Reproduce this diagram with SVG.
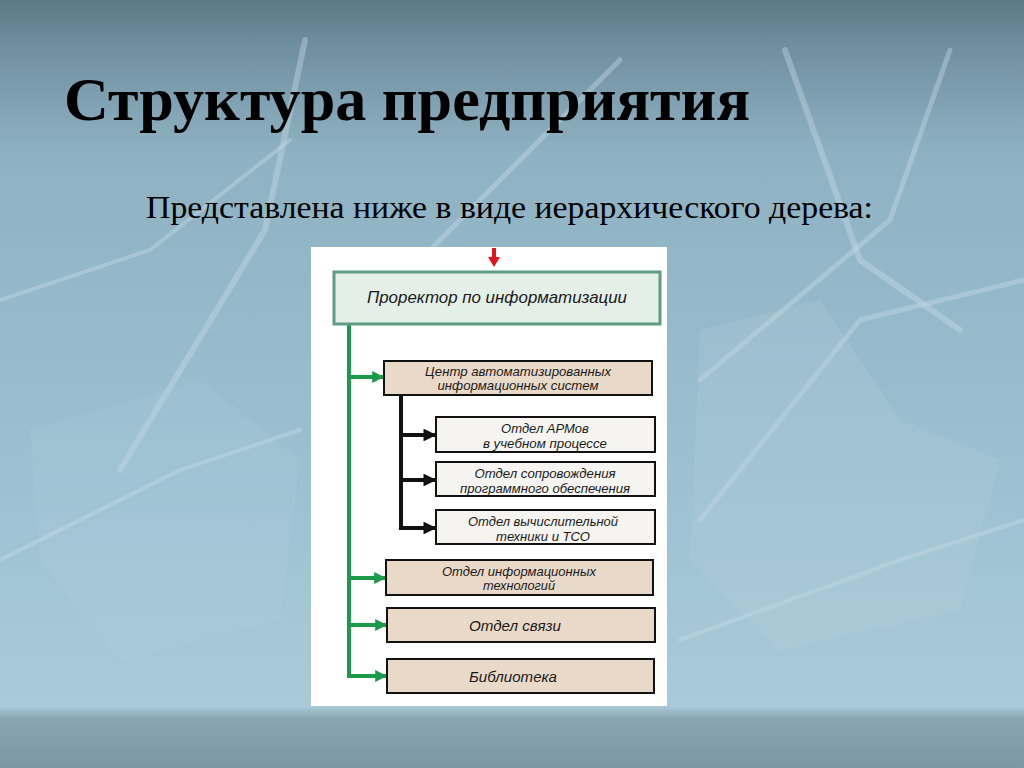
<svg xmlns="http://www.w3.org/2000/svg" width="1024" height="768" viewBox="0 0 1024 768">
<defs>
<linearGradient id="bg" x1="0" y1="0" x2="0" y2="1">
<stop offset="0" stop-color="#5b7886"/>
<stop offset="0.06" stop-color="#6f8f9e"/>
<stop offset="0.2" stop-color="#8fb2c3"/>
<stop offset="0.6" stop-color="#9cc0d0"/>
<stop offset="0.92" stop-color="#a9cad8"/>
<stop offset="0.935" stop-color="#8aa5b2"/>
<stop offset="1" stop-color="#7c97a4"/>
</linearGradient>
<marker id="ga" viewBox="0 0 10 10" refX="9" refY="5" markerWidth="3" markerHeight="3" orient="auto" markerUnits="strokeWidth"><path d="M0,0 L10,5 L0,10 z" fill="#1a9a4a"/></marker>
<marker id="ba" viewBox="0 0 10 10" refX="9" refY="5" markerWidth="3.2" markerHeight="3.2" orient="auto" markerUnits="strokeWidth"><path d="M0,0 L10,5 L0,10 z" fill="#111"/></marker>
<style>
.title{font-family:"Liberation Serif","Times New Roman",serif;font-weight:bold;fill:#000}
.sub{font-family:"Liberation Serif","Times New Roman",serif;fill:#000}
.t{font-family:"Liberation Sans",Arial,sans-serif;font-style:italic;fill:#1a1a1a;text-anchor:middle}
.tan{fill:#e9d9c9;stroke:#111;stroke-width:2}
.lt{fill:#f6f4f0;stroke:#111;stroke-width:2}
.g{stroke:#1a9a4a;stroke-width:4;fill:none}
.b{stroke:#111;stroke-width:4;fill:none}
.deco{stroke:#c9dde7;stroke-opacity:0.4;fill:none;stroke-linecap:round}
</style>
</defs>
<rect width="1024" height="768" fill="url(#bg)"/>
<g id="decoration">
<path class="deco" stroke-width="6" d="M305,40 L265,230 L120,470"/>
<path class="deco" stroke-width="5" d="M620,60 L430,250 L330,390"/>
<path class="deco" stroke-width="6" d="M785,50 L860,260 L960,330"/>
<path class="deco" stroke-width="5" d="M950,50 L890,220 L700,380"/>
<path class="deco" stroke-width="5" d="M1024,280 L860,320 L700,520"/>
<path class="deco" stroke-width="4" d="M0,560 L180,470 L300,430"/>
<path class="deco" stroke-width="4" d="M680,640 L900,560 L1024,520"/>
<path class="deco" stroke-width="4" d="M0,300 L150,250 L290,140"/>
<path fill="#b7d2de" fill-opacity="0.2" d="M700,330 L820,300 L900,420 L1000,460 L960,610 L780,650 L690,560 z"/>
<path fill="#b7d2de" fill-opacity="0.16" d="M30,430 L200,380 L300,460 L280,620 L120,660 L40,560 z"/>
</g>
<text class="title" x="64" y="120" font-size="62" textLength="686" lengthAdjust="spacingAndGlyphs">Структура предприятия</text>
<text class="sub" x="146" y="218" font-size="32" textLength="727" lengthAdjust="spacingAndGlyphs">Представлена ниже в виде иерархического дерева:</text>
<rect x="311" y="247" width="356" height="459" fill="#ffffff"/>
<g id="connectors">
<line x1="494" y1="248" x2="494" y2="258" stroke="#e0141c" stroke-width="4"/>
<path d="M488,257 L500,257 L494,267 z" fill="#e0141c"/>
<line class="g" x1="349" y1="324" x2="349" y2="678"/>
<line class="g" x1="347" y1="377" x2="383" y2="377" marker-end="url(#ga)"/>
<line class="g" x1="347" y1="578" x2="385" y2="578" marker-end="url(#ga)"/>
<line class="g" x1="347" y1="625" x2="386" y2="625" marker-end="url(#ga)"/>
<line class="g" x1="347" y1="676" x2="386" y2="676" marker-end="url(#ga)"/>
<line class="b" x1="401" y1="395" x2="401" y2="530"/>
<line class="b" x1="399" y1="435" x2="435" y2="435" marker-end="url(#ba)"/>
<line class="b" x1="399" y1="480" x2="435" y2="480" marker-end="url(#ba)"/>
<line class="b" x1="399" y1="528" x2="435" y2="528" marker-end="url(#ba)"/>
</g>
<g id="prorector">
<rect x="334" y="272" width="326" height="52" fill="#e4efe8" stroke="#5e9c84" stroke-width="3"/>
<text class="t" x="497" y="303" font-size="17" textLength="260" lengthAdjust="spacingAndGlyphs">Проректор по информатизации</text>
</g>
<g id="center">
<rect class="tan" x="384" y="361" width="268" height="34"/>
<text class="t" x="518" y="376" font-size="13" textLength="186" lengthAdjust="spacingAndGlyphs">Центр автоматизированных</text>
<text class="t" x="518" y="390" font-size="13" textLength="161" lengthAdjust="spacingAndGlyphs">информационных систем</text>
</g>
<g id="arm">
<rect class="lt" x="436" y="417" width="219" height="35"/>
<text class="t" x="545" y="433" font-size="13">Отдел АРМов</text>
<text class="t" x="545" y="448" font-size="13" textLength="124" lengthAdjust="spacingAndGlyphs">в учебном процессе</text>
</g>
<g id="soprov">
<rect class="lt" x="436" y="462" width="219" height="34"/>
<text class="t" x="545" y="478" font-size="13" textLength="141" lengthAdjust="spacingAndGlyphs">Отдел сопровождения</text>
<text class="t" x="545" y="493" font-size="13" textLength="170" lengthAdjust="spacingAndGlyphs">программного обеспечения</text>
</g>
<g id="vych">
<rect class="lt" x="436" y="510" width="219" height="34"/>
<text class="t" x="543" y="526" font-size="13" textLength="150" lengthAdjust="spacingAndGlyphs">Отдел вычислительной</text>
<text class="t" x="543" y="541" font-size="13" textLength="94" lengthAdjust="spacingAndGlyphs">техники и ТСО</text>
</g>
<g id="it">
<rect class="tan" x="386" y="560" width="267" height="35"/>
<text class="t" x="519" y="576" font-size="13" textLength="154" lengthAdjust="spacingAndGlyphs">Отдел информационных</text>
<text class="t" x="519" y="590" font-size="13" textLength="72" lengthAdjust="spacingAndGlyphs">технологий</text>
</g>
<g id="svyaz">
<rect class="tan" x="387" y="608" width="268" height="34"/>
<text class="t" x="515" y="631" font-size="15" textLength="92" lengthAdjust="spacingAndGlyphs">Отдел связи</text>
</g>
<g id="library">
<rect class="tan" x="387" y="659" width="267" height="34"/>
<text class="t" x="513" y="682" font-size="15" textLength="88" lengthAdjust="spacingAndGlyphs">Библиотека</text>
</g>
</svg>
